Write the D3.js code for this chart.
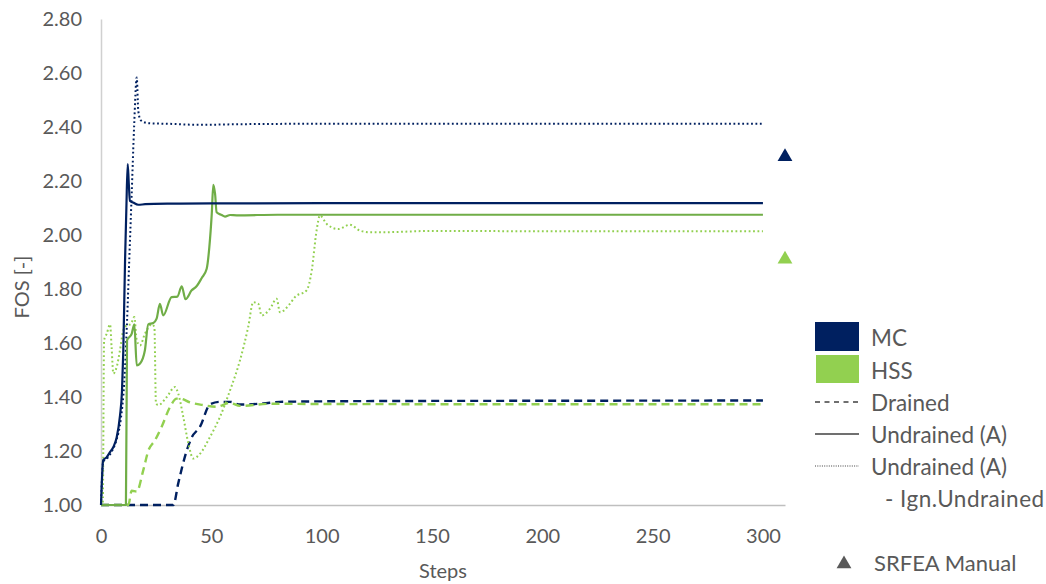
<!DOCTYPE html>
<html>
<head>
<meta charset="utf-8">
<script src="https://cdn.jsdelivr.net/npm/d3@7"></script>
<style>
  html, body { margin: 0; padding: 0; background: #ffffff; }
  svg { display: block; }
  text { font-family: Lato, "Open Sans", sans-serif; fill: #595959; }
</style>
</head>
<body>
<svg id="chart" width="1046" height="584"></svg>
<script>
// FOS vs. calculation step for two constitutive models (MC / HSS)
const xTicks = [0, 50, 100, 150, 200, 250, 300];
const yTicks = [1.0, 1.2, 1.4, 1.6, 1.8, 2.0, 2.2, 2.4, 2.6, 2.8];

// MC – Undrained (A)
const mcUndrainedSteps = [0, 1, 2.6, 4, 5.6, 7.1, 8.6, 9.5, 10.1, 10.9, 11.5, 12.1, 12.6, 13.1, 14.6, 16.9, 20, 30, 50, 100, 200, 300];
const mcUndrainedFos   = [1.00, 1.166, 1.177, 1.195, 1.215, 1.25, 1.33, 1.42, 1.57, 1.905, 2.10, 2.263, 2.19, 2.127, 2.12, 2.112, 2.114, 2.116, 2.117, 2.118, 2.118, 2.118];

// MC – Undrained (A) - Ign.Undrained
const mcIgnSteps = [0, 1, 3, 5, 7, 9, 10.5, 11.8, 12.8, 13.9, 15, 16.2, 16.9, 18, 21.4, 30, 45, 60, 100, 200, 300];
const mcIgnFos   = [1.00, 1.16, 1.175, 1.20, 1.24, 1.32, 1.45, 1.68, 1.905, 2.15, 2.40, 2.583, 2.46, 2.425, 2.414, 2.412, 2.408, 2.410, 2.412, 2.412, 2.412];

// MC – Drained
const mcDrainedSteps = [0, 10, 20, 32.8, 35, 38.8, 41.1, 44.9, 49.4, 53.9, 58.5, 63, 73.5, 81, 126, 200, 300];
const mcDrainedFos   = [1.0, 1.0, 1.0, 1.0, 1.08, 1.20, 1.25, 1.29, 1.373, 1.382, 1.382, 1.372, 1.376, 1.382, 1.385, 1.386, 1.387];

// HSS – Undrained (A)
const hssUndrainedSteps = [0, 11, 11.3, 11.8, 13.9, 15.1, 16.2, 17.7, 19.9, 21.4, 23.7, 25.2, 26.7, 28.2, 32, 34.6, 36.6, 38.3, 41.1, 43.3, 45.6, 47.9, 49.1, 50.2, 50.9, 51.7, 52.4, 54.7, 56.2, 58.5, 61.5, 80, 150, 300];
const hssUndrainedFos   = [1.0, 1.0, 1.0, 1.61, 1.634, 1.669, 1.517, 1.524, 1.573, 1.669, 1.674, 1.69, 1.745, 1.702, 1.77, 1.772, 1.81, 1.762, 1.795, 1.81, 1.84, 1.875, 1.955, 2.078, 2.186, 2.152, 2.084, 2.074, 2.068, 2.074, 2.073, 2.075, 2.075, 2.075];

// HSS – Drained
const hssDrainedSteps = [0, 11, 12.4, 13.9, 16.2, 19.2, 21.4, 24.5, 27.5, 31.3, 34.3, 35.8, 40.3, 46.4, 52.4, 58.5, 63, 76.6, 100, 200, 300];
const hssDrainedFos   = [1.0, 1.0, 1.0, 1.053, 1.05, 1.13, 1.20, 1.24, 1.29, 1.363, 1.394, 1.394, 1.38, 1.37, 1.364, 1.378, 1.367, 1.375, 1.374, 1.373, 1.373];

// HSS – Undrained (A) - Ign.Undrained
const hssIgnSteps = [0, 0.8, 1.4, 2.6, 4.1, 4.8, 5.6, 7.1, 8.6, 10.1, 11.6, 13.5, 15.1, 16.2, 17.7, 19.9, 23, 24.2, 24.9, 26, 29.8, 33.5, 35, 37.3, 39.6, 41.8, 44.9, 49.4, 53.9, 58.5, 63, 66.7, 69, 71.3, 72.8, 76.6, 79.6, 81.1, 85.6, 87.9, 93.2, 95.5, 97.7, 99.2, 102.3, 107.5, 112.8, 117.4, 121.9, 126.4, 150, 200, 300];
const hssIgnFos   = [1.0, 1.0, 1.61, 1.634, 1.669, 1.585, 1.487, 1.511, 1.573, 1.647, 1.665, 1.67, 1.696, 1.61, 1.591, 1.634, 1.669, 1.659, 1.376, 1.37, 1.40, 1.437, 1.413, 1.326, 1.228, 1.172, 1.19, 1.252, 1.326, 1.425, 1.536, 1.659, 1.751, 1.745, 1.702, 1.727, 1.764, 1.714, 1.745, 1.77, 1.795, 1.868, 2.016, 2.072, 2.041, 2.022, 2.038, 2.016, 2.01, 2.01, 2.015, 2.014, 2.014];

// SRFEA manual reference values
const srfeaModels = ["MC", "HSS"];
const srfeaFos = [2.29, 1.91];
const srfeaStep = 310;

const NAVY = "#002060";
const GREEN = "#70AD47";
const LIGHT_GREEN = "#92D050";
const FONT = "Lato, 'Open Sans', sans-serif";

const svg = d3.select("#chart");
const x = d3.scaleLinear().domain([0, 310]).range([101, 785]);
const y = d3.scaleLinear().domain([1.0, 2.8]).range([505, 19]);

// axes: plain grey lines, no tick marks
const xAxis = d3.axisBottom(x).tickValues(xTicks).tickSize(0).tickPadding(24).tickFormat(d3.format("d"));
const yAxis = d3.axisLeft(y).tickValues(yTicks).tickSize(0).tickPadding(19).tickFormat(d3.format(".2f"));

const gx = svg.append("g").attr("transform", `translate(0,${y(1.0)})`).call(xAxis);
gx.select(".domain").attr("stroke", "#BFBFBF").attr("stroke-width", 1.5);
gx.selectAll("text").attr("font-size", 20).attr("fill", "#595959").attr("font-family", FONT);

const gy = svg.append("g").attr("transform", `translate(${x(0)},0)`).call(yAxis);
gy.select(".domain").attr("stroke", "#D0D0D0").attr("stroke-width", 1.5);
gy.selectAll("text").attr("font-size", 20).attr("fill", "#595959").attr("font-family", FONT);

svg.append("text").attr("x", 443).attr("y", 578).attr("text-anchor", "middle")
  .attr("font-size", 20).text("Steps");
svg.append("text").attr("transform", "translate(29,287) rotate(-90)").attr("text-anchor", "middle")
  .attr("font-size", 20).text("FOS [-]");

const line = d3.line().x(d => x(d[0])).y(d => y(d[1])).curve(d3.curveMonotoneX);
const zip = (s, v) => s.map((t, i) => [t, v[i]]);

const series = [
  { steps: mcDrainedSteps, fos: mcDrainedFos, color: NAVY, width: 2.4, dash: "8,5" },
  { steps: hssDrainedSteps, fos: hssDrainedFos, color: LIGHT_GREEN, width: 2.4, dash: "8,5" },
  { steps: hssIgnSteps, fos: hssIgnFos, color: LIGHT_GREEN, width: 2, dash: "1.8,2.6" },
  { steps: mcIgnSteps, fos: mcIgnFos, color: NAVY, width: 2, dash: "1.8,2.6" },
  { steps: hssUndrainedSteps, fos: hssUndrainedFos, color: GREEN, width: 2.2, dash: null },
  { steps: mcUndrainedSteps, fos: mcUndrainedFos, color: NAVY, width: 2.2, dash: null }
];

svg.append("g").selectAll("path").data(series).join("path")
  .attr("d", d => line(zip(d.steps, d.fos)))
  .attr("fill", "none")
  .attr("stroke", d => d.color)
  .attr("stroke-width", d => d.width)
  .attr("stroke-dasharray", d => d.dash)
  .attr("stroke-linejoin", "round");

// SRFEA manual markers
const tri = d3.symbol().type(d3.symbolTriangle).size(95);
svg.append("g").selectAll("path").data(srfeaModels).join("path")
  .attr("d", tri)
  .attr("transform", (d, i) => `translate(${x(srfeaStep)},${y(srfeaFos[i])})`)
  .attr("fill", (d, i) => i === 0 ? NAVY : LIGHT_GREEN);

// legend
const lg = svg.append("g").attr("font-size", 22.5);
lg.append("rect").attr("x", 815).attr("y", 322).attr("width", 44).attr("height", 29).attr("fill", NAVY);
lg.append("text").attr("x", 871).attr("y", 346).text("MC");
lg.append("rect").attr("x", 816).attr("y", 355).attr("width", 43).attr("height", 28).attr("fill", LIGHT_GREEN);
lg.append("text").attr("x", 871).attr("y", 379).text("HSS");

const lineItems = [
  { dash: "5,4.5", width: 1.3, ly: 402, ty: 411, label: "Drained" },
  { dash: null, width: 1.5, ly: 434, ty: 443, label: "Undrained (A)" },
  { dash: "1,1.3", width: 1.2, ly: 466, ty: 475, label: "Undrained (A)" }
];
lineItems.forEach(it => {
  lg.append("line").attr("x1", 815).attr("x2", 859).attr("y1", it.ly).attr("y2", it.ly)
    .attr("stroke", "#404040").attr("stroke-width", it.width).attr("stroke-dasharray", it.dash);
  lg.append("text").attr("x", 871).attr("y", it.ty).text(it.label);
});
lg.append("text").attr("x", 885).attr("y", 507).attr("letter-spacing", 0.5).text("- Ign.Undrained");

lg.append("path").attr("d", tri).attr("transform", "translate(844,564)").attr("fill", "#595959");
lg.append("text").attr("x", 874).attr("y", 571).attr("font-size", 22).text("SRFEA Manual");
</script>
</body>
</html>
